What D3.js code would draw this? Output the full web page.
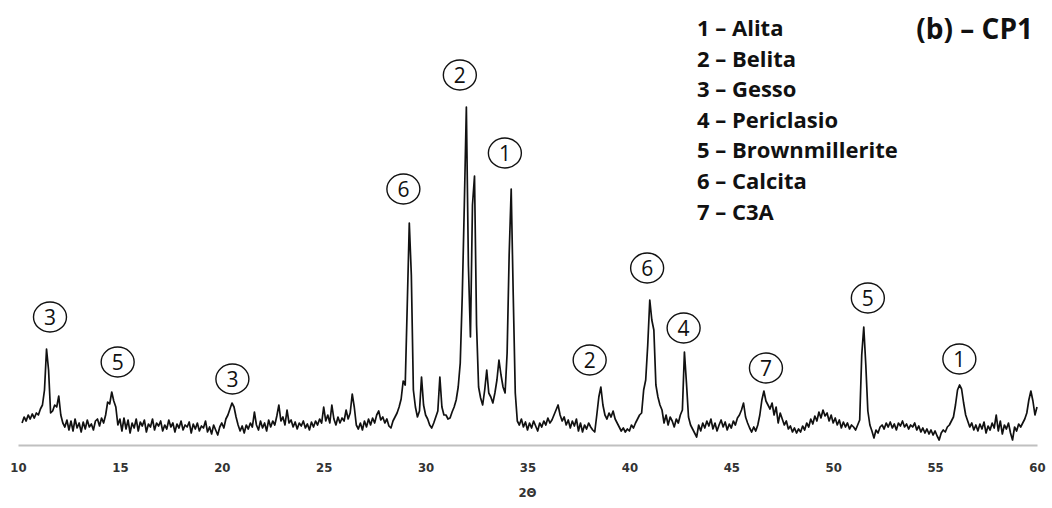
<!DOCTYPE html>
<html><head><meta charset="utf-8">
<script src="https://cdn.jsdelivr.net/npm/d3@7"></script>
<style>body{margin:0;background:#fff;} svg{display:block;}</style>
</head><body><svg id="chart" width="1052" height="508"></svg>
<script>
// 2θ rows: each row holds intensities at deg.0, deg.1 ... deg.9 (step 0.1°)
const degreeStarts = [10,11,12,13,14,15,16,17,18,19,20,21,22,23,24,25,26,27,28,29,30,31,32,33,34,35,36,37,38,39,40,41,42,43,44,45,46,47,48,49,50,51,52,53,54,55,56,57,58,59,60];
const counts = [
  [null,null,22,28,24,30,26,31,27,32],
  [30,36,40,55,96,75,32,34,40,38],
  [49,30,22,18,25,15,24,14,26,17],
  [22,13,23,16,25,18,21,15,24,26],
  [19,27,22,30,43,41,53,44,38,20],
  [26,14,27,16,25,12,22,17,26,14],
  [23,19,25,13,21,18,26,15,22,19],
  [24,14,20,16,25,18,22,13,21,17],
  [24,15,20,18,23,12,21,16,22,14],
  [19,17,24,13,18,11,20,15,10,18],
  [22,17,26,30,36,42,38,28,20,14],
  [19,12,20,16,22,18,33,20,15,24],
  [17,22,14,25,18,24,20,29,40,24],
  [28,20,35,22,25,18,23,16,22,19],
  [24,17,21,15,23,18,24,20,26,22],
  [38,24,30,22,40,26,20,28,22,27],
  [24,35,26,32,51,38,20,16,22,15],
  [24,18,26,20,27,22,30,34,25,28],
  [22,26,19,17,24,28,32,38,46,64],
  [60,140,222,170,55,38,28,34,68,40],
  [30,26,20,17,22,28,34,68,38,30],
  [30,26,27,33,38,45,58,82,150,240],
  [338,180,108,240,269,120,58,47,40,55],
  [75,52,48,42,52,65,85,70,58,52],
  [92,190,256,150,52,24,20,26,18,23],
  [15,22,17,24,19,14,22,18,24,20],
  [27,22,25,30,35,40,30,24,28,20],
  [25,17,24,19,26,14,22,13,20,16],
  [22,18,15,13,30,48,58,40,30,26],
  [32,28,34,26,22,18,14,17,13,16],
  [14,20,17,22,26,30,32,55,65,100],
  [145,125,115,60,48,40,35,22,30,20],
  [28,24,18,26,22,30,35,93,62,28],
  [20,16,12,8,20,14,22,17,24,19],
  [26,16,22,14,20,25,18,23,15,21],
  [17,24,20,27,30,35,42,28,22,17],
  [13,18,14,20,30,45,54,44,40,36],
  [42,30,38,22,32,26,20,24,16,19],
  [13,17,12,16,13,19,15,22,18,26],
  [21,29,24,33,27,35,29,32,24,30],
  [22,27,20,25,17,23,18,22,16,20],
  [18,15,20,25,90,118,80,34,20,14],
  [7,15,12,18,20,16,22,18,23,17],
  [21,15,22,19,24,18,21,16,20,18],
  [22,15,19,13,17,12,16,11,15,10],
  [14,9,5,12,15,13,18,20,24,28],
  [40,55,60,56,42,30,24,18,22,15],
  [20,14,21,16,23,12,19,15,22,17],
  [30,14,24,11,20,16,22,12,5,18],
  [14,21,18,22,26,32,45,54,44,30],
  [38]
];
const tickValues = [10,15,20,25,30,35,40,45,50,55,60];
const phaseNames = ["1 – Alita","2 – Belita","3 – Gesso","4 – Periclasio","5 – Brownmillerite","6 – Calcita","7 – C3A"];
const peakLabels = ["3","5","3","6","2","1","2","6","4","7","5","1"];
const peakLabelTheta = [11.57,14.89,20.52,28.91,31.68,33.89,38.05,40.87,42.66,46.70,51.70,56.19];
const peakLabelIntensity = [128,83,66,256,370,292,85,177,117,77,147,86];
const chartTitle = "(b) – CP1";
const axisTitle = "2Θ";

const svg = d3.select("#chart");
const x = d3.scaleLinear().domain([10,60]).range([18,1037]);
const y = d3.scaleLinear().domain([0,350]).range([445,95]);

const points = [];
counts.forEach((row,r)=>{
  row.forEach((v,j)=>{
    points.push({t: Math.round((degreeStarts[r]+j/10)*10)/10, v: v});
  });
});

// axis
const ax = svg.append("g").attr("transform","translate(0,445)")
  .call(d3.axisBottom(x).tickValues(tickValues).tickSize(0).tickPadding(18).tickFormat(d3.format("d")));
ax.select(".domain").attr("stroke","#c0c0c0").attr("stroke-width",2);
ax.selectAll("text").attr("font-family","'Liberation Sans Narrow','DejaVu Sans Condensed',sans-serif")
  .attr("font-weight","bold").attr("font-size",13).attr("fill","#333");

svg.append("text").attr("x",x(35)).attr("y",497).attr("text-anchor","middle")
  .attr("font-family","'Liberation Sans Narrow','DejaVu Sans Condensed',sans-serif")
  .attr("font-weight","bold").attr("font-size",13).attr("fill","#333").text(axisTitle);

// line
const line = d3.line().defined(d=>d.v!==null).x(d=>x(d.t)).y(d=>y(d.v));
svg.append("path").datum(points).attr("d",line).attr("fill","none")
  .attr("stroke","#111").attr("stroke-width",1.7).attr("stroke-linejoin","round");

// peak labels
const lab = svg.append("g").selectAll("g").data(peakLabels).join("g")
  .attr("transform",(d,i)=>`translate(${x(peakLabelTheta[i])},${y(peakLabelIntensity[i])})`);
lab.append("ellipse").attr("rx",16.5).attr("ry",15).attr("fill","#fff").attr("stroke","#111").attr("stroke-width",1.4);
lab.append("text").attr("text-anchor","middle").attr("dy","0.36em")
  .attr("font-family","'Open Sans',sans-serif").attr("font-size",21).attr("fill","#111").text(d=>d);

// legend
svg.append("g").selectAll("text").data(phaseNames).join("text")
  .attr("x",697).attr("y",(d,i)=>28+30.6*i).attr("dy","0.36em")
  .attr("font-family","'Open Sans',sans-serif").attr("font-weight","bold").attr("font-size",22)
  .attr("fill","#111").text(d=>d);

svg.append("text").attr("x",1033).attr("y",29).attr("dy","0.36em").attr("text-anchor","end")
  .attr("font-family","'Open Sans',sans-serif").attr("font-weight","bold").attr("font-size",28)
  .attr("fill","#111").text(chartTitle);
</script></body></html>
